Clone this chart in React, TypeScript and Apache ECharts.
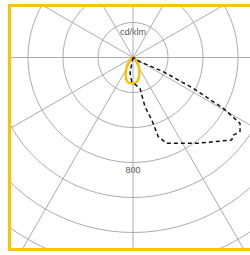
import React, { useEffect, useRef } from "react";
import * as echarts from "echarts";

// Angles in degrees from nadir (0 = straight down, positive = to the right)
const yellowAngles = [-90, -60, -45, -34, -23, -13, -3, 9, 22, 33, 50, 60, 90];
const yellowValues = [0, 8, 30, 63, 109, 142, 147, 140, 97, 63, 22, 8, 0];

const dashedAngles = [0, -11, -3, 12.8, 13.7, 16.7, 17.7, 21.4, 36.6, 50.1, 52.3, 55.3, 58.4, 60.6, 62.9, 64.9, 59, 60];
const dashedValues = [0, 90, 138, 181, 289, 373, 475, 527, 611, 735, 725, 744, 718, 592, 387, 191, 47, 0];

const radiusTicks = [0, 200, 400, 600, 800, 1000, 1200, 1400];
const unitLabel = "cd/klm";
const valueLabel = "800";

const GRID = "#ababab";
const YELLOW = "#f9c300";

export default function App() {
  const ref = useRef<HTMLDivElement>(null);
  useEffect(() => {
    if (!ref.current) return;
    const chart = echarts.init(ref.current, undefined, { renderer: "svg" });
    const yellowData = yellowAngles.map((a, i) => [yellowValues[i], a]);
    const dashedData = dashedAngles.map((a, i) => [dashedValues[i], a]);
    chart.setOption({
      animation: false,
      backgroundColor: "#ffffff",
      polar: { center: [122, 50.5], radius: 245 },
      angleAxis: {
        type: "value",
        min: -180,
        max: 180,
        interval: 30,
        startAngle: 90,
        clockwise: false,
        axisLine: { show: false },
        axisTick: { show: false },
        axisLabel: { show: false },
        splitLine: { show: true, lineStyle: { color: GRID, width: 1 } },
      },
      radiusAxis: {
        type: "value",
        min: radiusTicks[0],
        max: radiusTicks[radiusTicks.length - 1],
        interval: 200,
        axisLine: { show: false },
        axisTick: { show: false },
        axisLabel: { show: false },
        splitLine: { show: true, lineStyle: { color: GRID, width: 1 } },
      },
      graphic: [
        {
          type: "text",
          x: 122,
          y: 25,
          style: {
            text: unitLabel,
            fill: "#555",
            font: "9px 'Liberation Sans', Arial, sans-serif",
            align: "center",
            verticalAlign: "middle",
          },
        },
        {
          type: "text",
          x: 122,
          y: 162.5,
          style: {
            text: valueLabel,
            fill: "#555",
            font: "9px 'Liberation Sans', Arial, sans-serif",
            align: "center",
            verticalAlign: "middle",
          },
        },
      ],
      series: [
        {
          type: "line",
          coordinateSystem: "polar",
          data: yellowData,
          showSymbol: false,
          symbol: "none",
          smooth: 0.3,
          lineStyle: { color: YELLOW, width: 2.5 },
          z: 3,
        },
        {
          type: "line",
          coordinateSystem: "polar",
          data: dashedData,
          showSymbol: false,
          symbol: "none",
          lineStyle: { color: "#111", width: 1.5, type: [4, 3] },
          z: 4,
        },
      ],
    });
    return () => chart.dispose();
  }, []);
  return (
    <div
      style={{
        position: "absolute",
        left: 8,
        top: 4,
        width: 239,
        height: 241,
        borderTop: `3px solid ${YELLOW}`,
        borderLeft: `3px solid ${YELLOW}`,
        borderBottom: `3px solid ${YELLOW}`,
        overflow: "hidden",
        background: "#fff",
      }}
    >
      <div ref={ref} style={{ width: 239, height: 241 }} />
    </div>
  );
}
